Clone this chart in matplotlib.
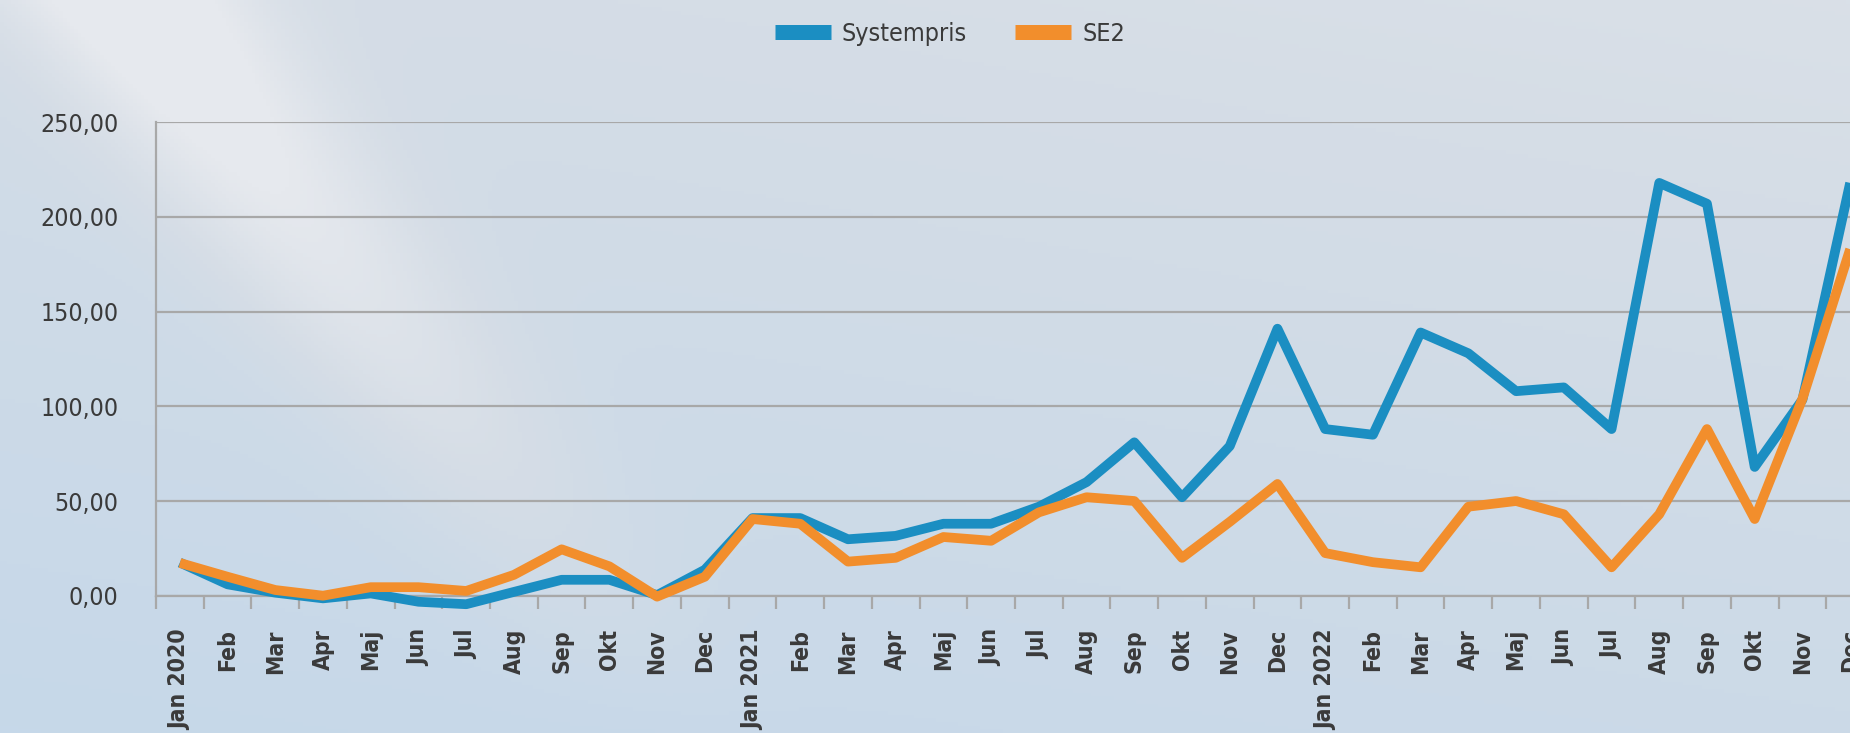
import numpy as np
import matplotlib
matplotlib.use("Agg")
import matplotlib.pyplot as plt
from matplotlib import font_manager
from matplotlib.lines import Line2D
from matplotlib.colors import LinearSegmentedColormap

# month labels, Jan 2020 .. Dec 2022
months = ["Jan 2020", "Feb", "Mar", "Apr", "Maj", "Jun", "Jul", "Aug", "Sep", "Okt", "Nov", "Dec",
          "Jan 2021", "Feb", "Mar", "Apr", "Maj", "Jun", "Jul", "Aug", "Sep", "Okt", "Nov", "Dec",
          "Jan 2022", "Feb", "Mar", "Apr", "Maj", "Jun", "Jul", "Aug", "Sep", "Okt", "Nov", "Dec"]

systempris = [17.5, 6, 1.6, -1.4, 1.2, -3.2, -4.5, 2, 8.4, 8.4, 0.3, 13.7,
              41, 41, 29.8, 31.6, 38, 38, 47, 60, 81, 52, 79, 141,
              88, 85, 139, 128, 108, 110, 88, 218, 207, 68, 103.5, 218]

se2 = [17.3, 10, 3, 0, 4.5, 4.5, 2.5, 11, 24.5, 15.5, -0.5, 10,
       40.5, 38, 18, 20, 31, 29, 44, 52, 50, 20, 39, 59,
       22.5, 17.7, 15, 47, 50, 43, 15, 43, 88, 40.5, 104, 183]

yticks = [0, 50, 100, 150, 200, 250]

BLUE = "#1b8ec2"
ORANGE = "#f28e2c"
TXT = "#3a3a3a"
GRID = "#a8a8a8"

# narrow font if we have one, otherwise plain DejaVu at a smaller size
fonts = font_manager.fontManager.ttflist
names = {f.name for f in fonts}
if "Liberation Sans Narrow" in names:
    plt.rcParams["font.family"] = ["Liberation Sans Narrow", "DejaVu Sans"]
    scale = 1.17
elif any(f.name == "DejaVu Sans" and f.stretch == "condensed" for f in fonts):
    plt.rcParams["font.family"] = ["DejaVu Sans"]
    plt.rcParams["font.stretch"] = "condensed"
    scale = 1.1
else:
    plt.rcParams["font.family"] = ["DejaVu Sans"]
    scale = 1.0

fig = plt.figure(figsize=(18.5, 7.33), dpi=100)

# soft blue-grey background with a light diagonal streak
bg = fig.add_axes([0, 0, 1, 1], zorder=-10)
h, w = 200, 500
yy, xx = np.mgrid[0:1:h * 1j, 0:1:w * 1j]
base = 0.35 * yy + 0.15 * (1 - xx)
streak = np.exp(-((xx * 1850 - (130 + (yy * 733) * 0.75)) / 120) ** 2) * (1 - yy) * 0.7
val = np.clip(base - streak, -0.3, 1)
cmap = LinearSegmentedColormap.from_list("bg", ["#e6e9ee", "#d5dde6", "#c6d8e9"])
bg.imshow(val, cmap=cmap, aspect="auto", extent=[0, 1, 0, 1], vmin=-0.3, vmax=0.5)
bg.axis("off")

ax = fig.add_axes([156 / 1850, 137.3 / 733, 1718 / 1850, 473.4 / 733])
ax.set_facecolor("none")

x = np.arange(len(months))
ax.plot(x, systempris, color=BLUE, lw=7, solid_joinstyle="round", solid_capstyle="butt",
        clip_on=False, zorder=3)
ax.plot(x, se2, color=ORANGE, lw=7, solid_joinstyle="round", solid_capstyle="butt",
        clip_on=False, zorder=4)

ax.set_xlim(-0.5, len(months) - 0.5)
ax.set_ylim(0, 250)

ax.set_yticks(yticks)
ax.set_yticklabels([f"{v:.2f}".replace(".", ",") for v in yticks])
ax.yaxis.grid(True, color=GRID, lw=1.6)
ax.set_axisbelow(True)
ax.tick_params(axis="y", length=0, pad=27, labelsize=16.3 * scale, labelcolor=TXT)

ax.set_xticks(x)
ax.set_xticklabels(months, rotation=90, va="top", ha="center", fontweight="bold")
ax.set_xticks(np.arange(-0.5, len(months), 1), minor=True)
ax.tick_params(axis="x", which="major", length=0, pad=24, labelsize=15 * scale, labelcolor=TXT)
ax.tick_params(axis="x", which="minor", length=9, width=1.6, color=GRID, direction="out")

for s in ["top", "right"]:
    ax.spines[s].set_visible(False)
for s in ["left", "bottom"]:
    ax.spines[s].set_color(GRID)
    ax.spines[s].set_linewidth(1.6)

fs = 16.4 * scale
handles = [Line2D([], [], color=BLUE, lw=10.8, solid_capstyle="butt"),
           Line2D([], [], color=ORANGE, lw=10.8, solid_capstyle="butt")]
fig.legend(handles, ["Systempris", "SE2"], loc="center", bbox_to_anchor=(0.5135, 0.9536),
           ncol=2, frameon=False, fontsize=fs, labelcolor=TXT,
           handlelength=56 / (fs * 100 / 72), handletextpad=11 / (fs * 100 / 72),
           columnspacing=48 / (fs * 100 / 72))

fig.savefig("out.png", dpi=100)
